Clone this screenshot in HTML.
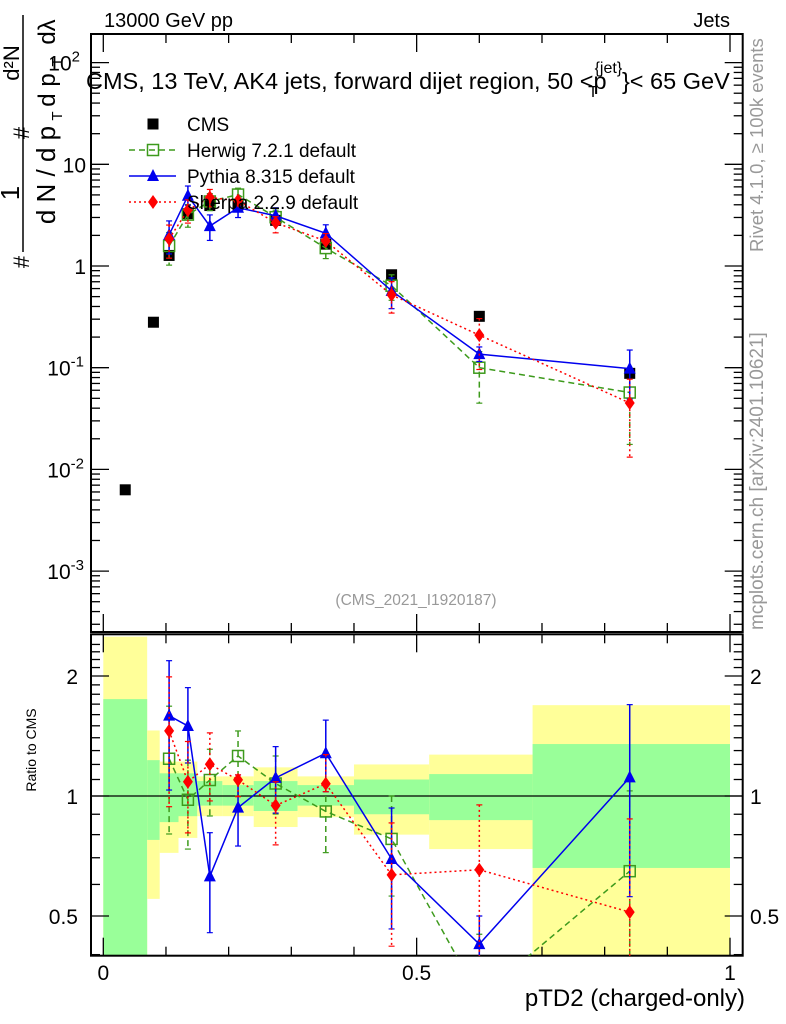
<!DOCTYPE html>
<html><head><meta charset="utf-8"><style>
body{margin:0;background:#fff;overflow:hidden;}
svg{display:block;font-family:"Liberation Sans",sans-serif;}
</style></head><body>
<svg id="c" width="786" height="1024" viewBox="0 0 786 1024"></svg>
<script>
const bins=[0.035,0.08,0.105,0.135,0.17,0.215,0.275,0.355,0.46,0.6,0.84];
const cmsVals=[0.0063,0.28,1.27,3.27,3.93,4.0,2.81,1.64,0.82,0.32,0.088];
const mcX=[0.105,0.135,0.17,0.215,0.275,0.355,0.46,0.6,0.84];
const cmsAtMc=[1.27,3.27,3.93,4.0,2.81,1.64,0.82,0.32,0.088];
const herwigVals=[1.575,3.2,4.31,5.04,3.02,1.5,0.64,0.1,0.057];
const herwigRLo=[0.803,0.736,0.891,1.0,0.901,0.721,0.561,0.14,0.2];
const herwigRHi=[1.68,1.23,1.31,1.456,1.26,1.26,1.0,0.45,1.03];
const pythiaVals=[2.02,4.9,2.47,3.74,3.12,2.1,0.57,0.136,0.098];
const pythiaRLo=[1.035,1.21,0.454,0.749,0.906,1.025,0.464,0.36,0.559];
const pythiaRHi=[2.185,1.87,0.809,1.129,1.33,1.55,0.933,0.5,1.695];
const sherpaVals=[1.85,3.55,4.72,4.39,2.66,1.76,0.52,0.209,0.045];
const sherpaRLo=[0.94,0.808,0.972,0.996,0.754,1.025,0.42,0.3,0.15];
const sherpaRHi=[1.99,1.37,1.44,1.13,1.086,1.27,0.856,0.95,0.876];
const bandEdges=[0,0.07,0.09,0.12,0.15,0.19,0.24,0.31,0.4,0.52,0.685,1.0];
const bandYHi=[2.51,1.46,1.22,1.22,1.12,1.12,1.18,1.12,1.2,1.27,1.69];
const bandGHi=[1.75,1.23,1.14,1.14,1.09,1.065,1.09,1.065,1.1,1.135,1.35];
const bandGLo=[0.3,0.776,0.86,0.89,0.946,0.946,0.917,0.946,0.9,0.87,0.66];
const bandYLo=[0.3,0.552,0.72,0.785,0.89,0.89,0.836,0.885,0.8,0.736,0.3];
const yTickExp=[2,1,0,-1,-2,-3];
const rTicks=[2,1,0.5];

const S=document.getElementById('c');const NS='http://www.w3.org/2000/svg';
function el(t,a,p){const e=document.createElementNS(NS,t);for(const k in a)e.setAttribute(k,a[k]);(p||S).appendChild(e);return e;}
const L=91,R=742.7,MT=34,MB=632,RT=634.3,RB=955.7;
const X=v=>103.3+626.7*v;
const Y=v=>266-101.7*Math.log10(v);
const RY=r=>796-120*Math.log2(r);
const defs=el('defs',{});
const cp1=el('clipPath',{id:'cm'},defs);el('rect',{x:L,y:MT,width:R-L,height:MB-MT},cp1);
const cp2=el('clipPath',{id:'cr'},defs);el('rect',{x:L,y:RT,width:R-L,height:RB-RT},cp2);

const gb=el('g',{'clip-path':'url(#cr)'});

for(let i=0;i<bandEdges.length-1;i++){
 const x0=X(bandEdges[i]),x1=X(bandEdges[i+1]);
 const y=el('rect',{x:x0,y:RY(bandYHi[i]),width:x1-x0,height:RY(bandYLo[i])-RY(bandYHi[i]),fill:'#ffff99'},gb);
 
 const g=el('rect',{x:x0,y:RY(bandGHi[i]),width:x1-x0,height:RY(bandGLo[i])-RY(bandGHi[i]),fill:'#99ff99'},gb);
 
}
el('line',{x1:L,x2:R,y1:RY(1),y2:RY(1),stroke:'#000','stroke-width':1.3});

for(const [t,b,n] of [[MT,MB,'main-frame'],[RT,RB,'ratio-frame']]){
 const f=el('rect',{x:L,y:t,width:R-L,height:b-t,fill:'none',stroke:'#000','stroke-width':2});
 
}
for(let i=0;i<=10;i++){const v=i/10,x=X(v),big=(i%5==0);const h=big?18:9;
 for(const [t,b] of [[MT,MB],[RT,RB]]){el('line',{x1:x,x2:x,y1:t,y2:t+h,stroke:'#000','stroke-width':1.3});el('line',{x1:x,x2:x,y1:b,y2:b-h,stroke:'#000','stroke-width':1.3});}
}
[['0',0],['0.5',0.5],['1',1]].forEach(([s,v])=>{const t=el('text',{x:X(v),y:980,'font-size':21,'text-anchor':'middle'});t.textContent=s;});
for(let e=-4;e<=2;e++){for(let m=1;m<10;m++){const v=m*Math.pow(10,e);const y=Y(v);if(y<MT||y>MB)continue;const h=m==1?18:9;
 el('line',{x1:L,x2:L+h,y1:y,y2:y,stroke:'#000','stroke-width':1.3});el('line',{x1:R,x2:R-h,y1:y,y2:y,stroke:'#000','stroke-width':1.3});}}
yTickExp.forEach(e=>{const y=Y(Math.pow(10,e));const t=el('text',{x:86,y:y+8,'font-size':21,'text-anchor':'end'});
 if(e==0){t.textContent='1';}else if(e==1){t.textContent='10';}
 else{t.textContent='10';const s=el('tspan',{dy:-9,'font-size':15},t);s.textContent=String(e);t.setAttribute('x',e<0?84:80);}
 });
for(let r=0.4;r<=2.5;r+=0.1){const y=RY(r);if(y<RT||y>RB)continue;const big=[0.5,1,2].some(q=>Math.abs(q-r)<1e-6);const h=big?18:9;
 el('line',{x1:L,x2:L+h,y1:y,y2:y,stroke:'#000','stroke-width':1.3});el('line',{x1:R,x2:R-h,y1:y,y2:y,stroke:'#000','stroke-width':1.3});}
rTicks.forEach(r=>{const y=RY(r)+8;
 const a=el('text',{x:78,y:y,'font-size':21,'text-anchor':'end'});a.textContent=String(r);
 const b=el('text',{x:750,y:y,'font-size':21});b.textContent=String(r);});

function marker(kind,x,y,col,g){
 let m;
 if(kind=='sq')m=el('rect',{x:x-5.5,y:y-5.5,width:11,height:11,fill:'#000'},g);
 else if(kind=='osq')m=el('rect',{x:x-5.5,y:y-5.5,width:11,height:11,fill:'none',stroke:col,'stroke-width':1.5},g);
 else if(kind=='tri')m=el('polygon',{points:`${x},${y-7} ${x-6},${y+5} ${x+6},${y+5}`,fill:col},g);
 else m=el('polygon',{points:`${x},${y-7} ${x-5},${y} ${x},${y+7} ${x+5},${y}`,fill:col},g);
 
}
const series=[
 {n:'herwig',vals:herwigVals,lo:herwigRLo,hi:herwigRHi,col:'#3d9a1c',dash:'6,4',mk:'osq'},
 {n:'pythia',vals:pythiaVals,lo:pythiaRLo,hi:pythiaRHi,col:'#0000ee',dash:'',mk:'tri'},
 {n:'sherpa',vals:sherpaVals,lo:sherpaRLo,hi:sherpaRHi,col:'#ff0000',dash:'2,3',mk:'dia'}];
const gc=el('g',{'clip-path':'url(#cm)'});
bins.forEach((b,i)=>marker('sq',X(b),Y(cmsVals[i]),'#000',gc));
series.forEach(s=>{
 for(const [cp,f] of [['cm',(i,r)=>Y(r*cmsAtMc[i])],['cr',(i,r)=>RY(r)]]){
  const g=el('g',{'clip-path':`url(#${cp})`});
  
  const ratio=s.vals.map((v,i)=>v/cmsAtMc[i]);
  const pts=mcX.map((x,i)=>X(x)+','+f(i,ratio[i])).join(' ');
  const pl=el('polyline',{points:pts,fill:'none',stroke:s.col,'stroke-width':1.5,'stroke-dasharray':s.dash},g);
  
  mcX.forEach((x,i)=>{const X0=X(x);const y1=f(i,s.hi[i]),y2=f(i,s.lo[i]);
   const e=el('line',{x1:X0,x2:X0,y1:y1,y2:y2,stroke:s.col,'stroke-width':1.5,'stroke-dasharray':s.dash},g);
   
   el('line',{x1:X0-3,x2:X0+3,y1:y1,y2:y1,stroke:s.col,'stroke-width':1.2},g);
   el('line',{x1:X0-3,x2:X0+3,y1:y2,y2:y2,stroke:s.col,'stroke-width':1.2},g);
   marker(s.mk,X0,f(i,ratio[i]),s.col,g);});
 }
});

const leg=[['CMS','sq','#000',''],['Herwig 7.2.1 default','osq','#3d9a1c','6,4'],['Pythia 8.315 default','tri','#0000ee',''],['Sherpa 2.2.9 default','dia','#ff0000','2,3']];
leg.forEach((l,i)=>{const y=124+i*26;const g=el('g',{});
 if(i>0)el('line',{x1:129,x2:176,y1:y,y2:y,stroke:l[2],'stroke-width':1.5,'stroke-dasharray':l[3]},g);
 marker(l[1],153,y,l[2],g);
 const t=el('text',{x:187,y:y+7,'font-size':19},g);t.textContent=l[0];});

function txt(s,a,n){const t=el('text',a);t.textContent=s;return t;}
txt('13000 GeV pp',{x:104,y:27,'font-size':20},'header-process');
txt('Jets',{x:730,y:27,'font-size':20,'text-anchor':'end'},'header-category');
const tt=txt('CMS, 13 TeV, AK4 jets, forward dijet region, 50 <p',{x:86,y:89,'font-size':23.5},'plot-title');
const ts=el('tspan',{dx:-12,dy:-16,'font-size':16},tt);ts.textContent='{jet}';
const ts2=el('tspan',{dx:-34,dy:24,'font-size':16},tt);ts2.textContent='T';
const ts3=el('tspan',{dx:24,dy:-8,'font-size':23.5},tt);ts3.textContent='}< 65 GeV';
txt('(CMS_2021_I1920187)',{x:416,y:605,'font-size':15.5,fill:'#999','text-anchor':'middle'},'analysis-id');
txt('Rivet 4.1.0, \u2265 100k events',{x:0,y:0,'font-size':18.5,fill:'#999',transform:'translate(763,252) rotate(-90)'},'rivet-version');
txt('mcplots.cern.ch [arXiv:2401.10621]',{x:0,y:0,'font-size':19,fill:'#999',transform:'translate(763,630) rotate(-90)'},'mcplots-credit');
txt('Ratio to CMS',{x:0,y:0,'font-size':14,'text-anchor':'middle',transform:'translate(36,750) rotate(-90)'},'ratio-y-axis-title');
txt('pTD2 (charged-only)',{x:745,y:1006,'font-size':24,'text-anchor':'end'},'x-axis-title');
const yg=el('g',{});
function rt(s,x,y,fs,g){const t=el('text',{x:0,y:0,'font-size':fs,'text-anchor':'middle',transform:`translate(${x},${y}) rotate(-90)`},g);t.textContent=s;return t;}
rt('#',29,262,22,yg);
el('line',{x1:23,x2:23,y1:15,y2:252,stroke:'#000','stroke-width':1.5},yg);
rt('1',19,193,26,yg);
rt('d N / d p',55,175,26,yg);rt('T',62,116,15,yg);
rt('#',29,133,22,yg);
rt('d\u00b2N',19,63,22,yg);
rt('d p',55,90,24,yg);rt('T',62,62,15,yg);rt('d\u03bb',55,32,24,yg);
</script>
</body></html>
